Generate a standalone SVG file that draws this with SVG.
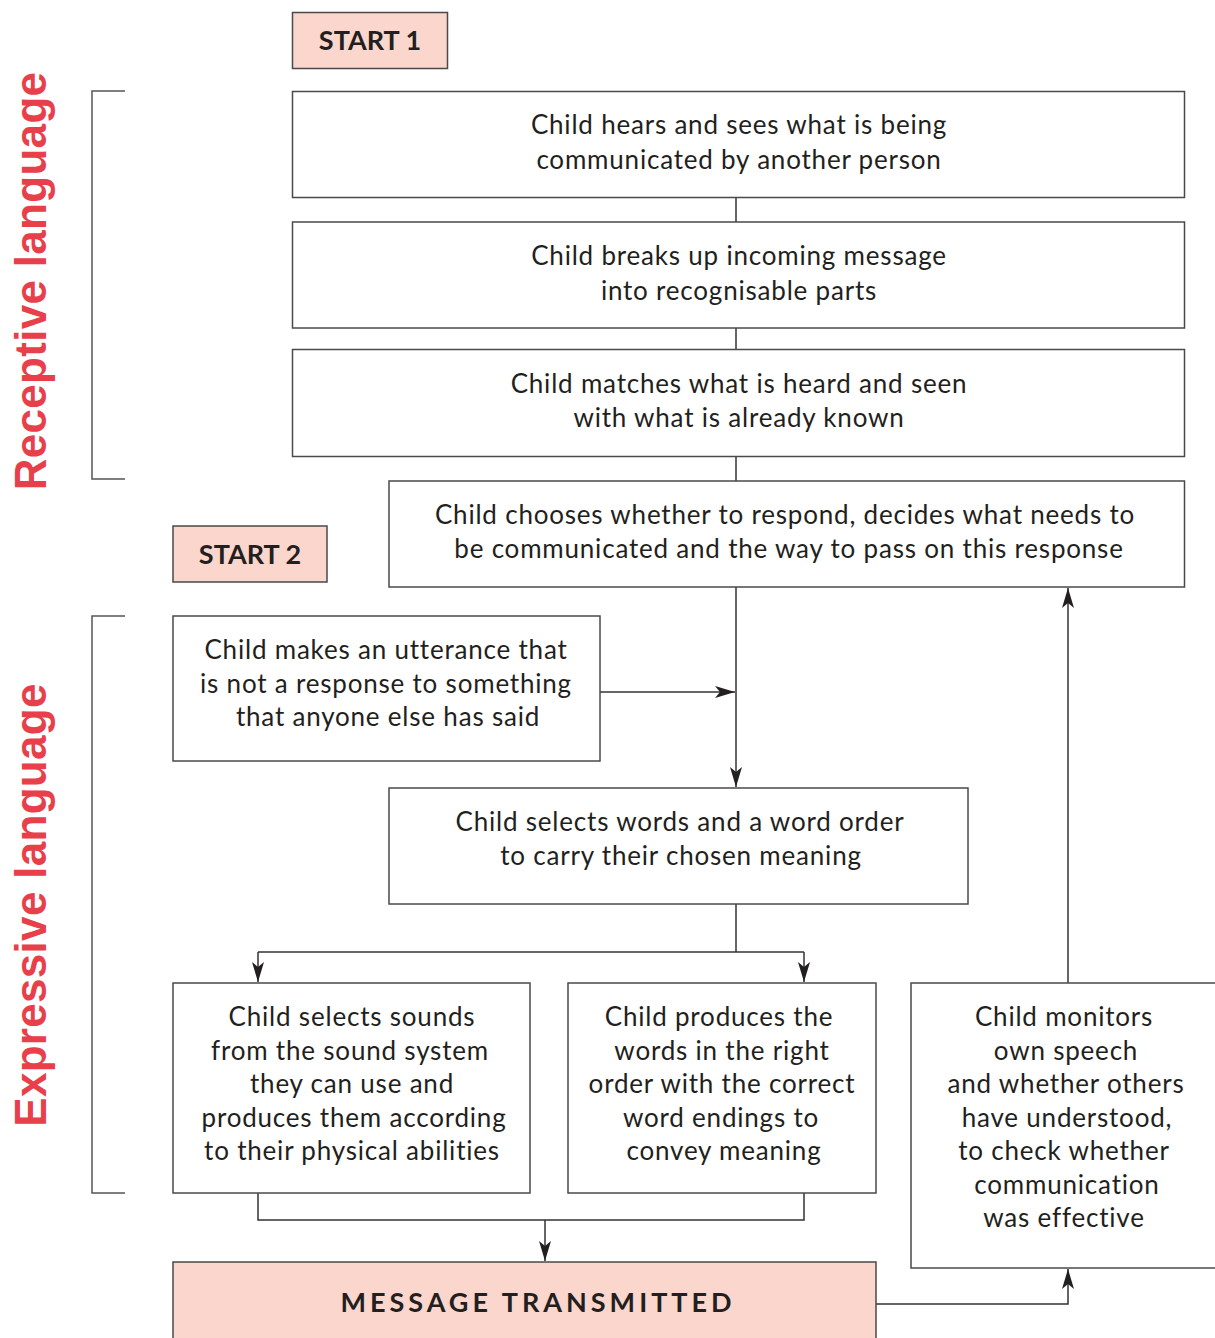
<svg xmlns="http://www.w3.org/2000/svg" width="1215" height="1338" viewBox="0 0 1215 1338">
<style>
.box{fill:#fff;stroke:#4a4a4a;stroke-width:1.5}
.pink{fill:#fbd6cc;stroke:#4a4a4a;stroke-width:1.5}
.t{font-family:Lato,"Liberation Sans",sans-serif;font-size:26px;fill:#231f20;text-anchor:middle;letter-spacing:0.8px}
.b{font-family:Lato,"Liberation Sans",sans-serif;font-weight:bold;font-size:27px;fill:#231f20;text-anchor:middle}
.side{font-family:"Liberation Sans",Arial,sans-serif;font-weight:bold;font-size:44px;fill:#e8404a;text-anchor:middle;letter-spacing:0.3px}
.ln{fill:none;stroke:#333;stroke-width:1.5}
.br{fill:none;stroke:#555;stroke-width:1.5}
</style>
<defs>
<marker id="a" markerUnits="userSpaceOnUse" viewBox="0 0 20 12" markerWidth="20" markerHeight="12" refX="20" refY="6" orient="auto">
<path d="M0,0 L20,6 L0,12 L5,6 Z" fill="#231f20"/>
</marker>
</defs>

<g id="labels">
<text class="side" transform="translate(46,281) rotate(-90)">Receptive language</text>
<text class="side" transform="translate(46,905) rotate(-90)">Expressive language</text>
<path class="br" d="M125,91 H92 V479 H125"/>
<path class="br" d="M125,616 H92 V1193 H125"/>
</g>

<g id="connectors">
<path class="ln" d="M736,197 V222"/>
<path class="ln" d="M736,328 V349"/>
<path class="ln" d="M736,457 V481"/>
<path class="ln" d="M736,587 V787" marker-end="url(#a)"/>
<path class="ln" d="M600,692 H735" marker-end="url(#a)"/>
<path class="ln" d="M736,904 V952"/>
<path class="ln" d="M258,952 H804"/>
<path class="ln" d="M258,952 V982" marker-end="url(#a)"/>
<path class="ln" d="M804,952 V982" marker-end="url(#a)"/>
<path class="ln" d="M258,1193 V1220 H804 V1193"/>
<path class="ln" d="M545,1220 V1261" marker-end="url(#a)"/>
<path class="ln" d="M1068,983 V588" marker-end="url(#a)"/>
<path class="ln" d="M876,1304 H1068 V1269" marker-end="url(#a)"/>
</g>

<g id="start1">
<rect class="pink" x="292.5" y="12.5" width="155" height="56"/>
<text class="b" x="370" y="50">START 1</text>
</g>
<g id="start2">
<rect class="pink" x="173" y="526" width="154" height="56"/>
<text class="b" x="250" y="564">START 2</text>
</g>

<g id="hears">
<rect class="box" x="292.5" y="91.5" width="892" height="106"/>
<text class="t" x="739" y="134">Child hears and sees what is being</text>
<text class="t" x="739" y="169">communicated by another person</text>
</g>
<g id="breaks">
<rect class="box" x="292.5" y="222" width="892" height="106"/>
<text class="t" x="739" y="265">Child breaks up incoming message</text>
<text class="t" x="739" y="300">into recognisable parts</text>
</g>
<g id="matches">
<rect class="box" x="292.5" y="349.5" width="892" height="107"/>
<text class="t" x="739" y="393">Child matches what is heard and seen</text>
<text class="t" x="739" y="427">with what is already known</text>
</g>
<g id="chooses">
<rect class="box" x="389" y="481" width="795.5" height="106"/>
<text class="t" x="785" y="524">Child chooses whether to respond, decides what needs to</text>
<text class="t" x="789" y="558">be communicated and the way to pass on this response</text>
</g>
<g id="utterance">
<rect class="box" x="173" y="616" width="427" height="145"/>
<text class="t" x="386" y="659">Child makes an utterance that</text>
<text class="t" x="386" y="693">is not a response to something</text>
<text class="t" x="388" y="726">that anyone else has said</text>
</g>
<g id="selectswords">
<rect class="box" x="389" y="788" width="579" height="116"/>
<text class="t" x="680" y="831">Child selects words and a word order</text>
<text class="t" x="681" y="865">to carry their chosen meaning</text>
</g>
<g id="sounds">
<rect class="box" x="173" y="983" width="357" height="210"/>
<text class="t" x="352" y="1026">Child selects sounds</text>
<text class="t" x="350" y="1060">from the sound system</text>
<text class="t" x="352" y="1093">they can use and</text>
<text class="t" x="354" y="1127">produces them according</text>
<text class="t" x="352" y="1160">to their physical abilities</text>
</g>
<g id="produces">
<rect class="box" x="568" y="983" width="308" height="210"/>
<text class="t" x="719" y="1026">Child produces the</text>
<text class="t" x="722" y="1060">words in the right</text>
<text class="t" x="722" y="1093">order with the correct</text>
<text class="t" x="721" y="1127">word endings to</text>
<text class="t" x="724" y="1160">convey meaning</text>
</g>
<g id="monitors">
<rect class="box" x="911" y="983" width="310" height="285"/>
<text class="t" x="1064" y="1026">Child monitors</text>
<text class="t" x="1066" y="1060">own speech</text>
<text class="t" x="1066" y="1093">and whether others</text>
<text class="t" x="1067" y="1127">have understood,</text>
<text class="t" x="1064" y="1160">to check whether</text>
<text class="t" x="1067" y="1194">communication</text>
<text class="t" x="1064" y="1227">was effective</text>
</g>
<g id="message">
<rect class="pink" x="173" y="1262" width="703" height="90"/>
<text class="b" x="538" y="1312" style="letter-spacing:4px">MESSAGE TRANSMITTED</text>
</g>
</svg>
